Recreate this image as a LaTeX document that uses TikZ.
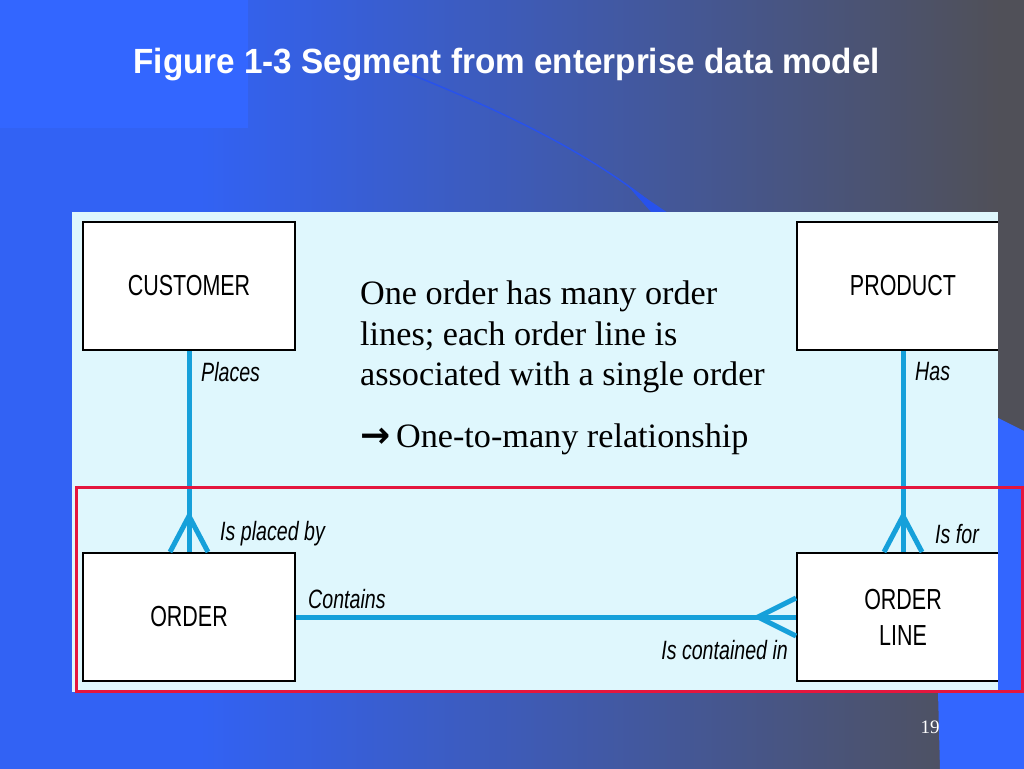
\documentclass[tikz,border=0pt]{standalone}
\usepackage{fontspec}
\setmainfont{Liberation Serif}
\newfontfamily\erfont[FakeStretch=0.74]{Liberation Sans}
\newfontfamily\headfont[FakeStretch=0.95]{Liberation Sans}
\newfontfamily\symfont{DejaVu Sans}
\usetikzlibrary{positioning,calc}
\definecolor{bgblue}{RGB}{50,98,244}
\definecolor{cornerblue}{RGB}{51,102,255}
\definecolor{bggrey}{RGB}{80,80,88}
\definecolor{swoosh}{RGB}{40,82,235}
\definecolor{panelcyan}{RGB}{223,247,253}
\definecolor{relcyan}{RGB}{22,160,218}
\definecolor{markred}{RGB}{228,22,62}
\tikzset{entity/.style={draw, line width=2pt, fill=white, minimum width=212pt, minimum height=128pt, align=center, font=\erfont\fontsize{29}{36}\selectfont},
  rel/.style={draw=relcyan, line width=5pt},
  role/.style={inner sep=0pt, font=\erfont\itshape\fontsize{26.5}{30}\selectfont}}

\begin{document}
\begin{tikzpicture}[x=1pt, y=1pt, node distance=201pt]
    \useasboundingbox (0,0) rectangle (1024,-768);
    % slide background
    \fill[bgblue] (-2,2) rectangle (202,-770);
    \shade[left color=bgblue, right color=bggrey] (200,2) rectangle (1000,-770);
    \fill[bggrey] (999,2) rectangle (1026,-770);
    \fill[cornerblue] (-2,2) rectangle (248,-128);
    \draw[swoosh, line width=1.5pt] (405,-72) .. controls (520,-118) and (600,-160) .. (662,-212);
    \fill[swoosh] (628,-186) -- (668,-213) -- (652,-213) -- cycle;
    \node[anchor=base west, text=white, font=\headfont\bfseries\fontsize{35}{40}\selectfont] (title) at (130,-73) {Figure 1-3 Segment from enterprise data model};

    % figure panel
    \fill[panelcyan] (72,-212) rectangle (998,-692);

    \node[entity]                     (cust) at (189,-286) {CUSTOMER};
    \node[entity, below=of cust]      (ord)  {ORDER};
    \node[entity, right=500pt of ord] (ordl) {ORDER\\LINE};
    \node[entity, above=of ordl]      (prod) {PRODUCT};

    \draw[rel] (cust) -- (ord);
    \draw[rel] ($(ord.north)+(-19,0)$) -- ($(ord.north)+(0,36)$) -- ($(ord.north)+(19,0)$);
    \draw[rel] (prod) -- (ordl);
    \draw[rel] ($(ordl.north)+(-19,0)$) -- ($(ordl.north)+(0,36)$) -- ($(ordl.north)+(19,0)$);
    \draw[rel] (ord) -- (ordl);
    \draw[rel] ($(ordl.west)+(0,19)$) -- ($(ordl.west)+(-38,0)$) -- ($(ordl.west)+(0,-19)$);

    \node[role, anchor=west]       (places)    at ($(cust.south)+(12,-21)$) {Places};
    \node[role, anchor=west]       (placedby)  at ($(ord.north)+(31,18)$)   {Is placed by};
    \node[role, anchor=west]       (has)       at ($(prod.south)+(12,-21)$) {Has};
    \node[role, anchor=west]       (isfor)     at ($(ordl.north)+(32,18)$)  {Is for};
    \node[role, anchor=west]       (contains)  at ($(ord.east)+(12,18)$)    {Contains};
    \node[role, anchor=east]       (contained) at ($(ordl.west)+(-8,-33)$)  {Is contained in};

    % note
    \node[anchor=north west, inner sep=0pt, align=left, font=\fontsize{34.2}{40.5}\selectfont] (note) at (360,-281)
        {One order has many order\\lines; each order line is\\associated with a single order};
    \node[anchor=base west, inner sep=0pt, font=\fontsize{34.2}{40}\selectfont] (onetomany) at (360,-447)
        {{\symfont\bfseries\fontsize{36}{40}\selectfont →}\,One-to-many relationship};

    % right edge of the slide
    \fill[bggrey] (998,-212) rectangle (1026,-420);
    \fill[cornerblue] (998,-418) -- (1026,-432) -- (1026,-770) -- (940,-770) -- (938,-692) -- (998,-692) -- cycle;
    \draw[markred, line width=3pt] (76,-487) rectangle (1022,-691);

    \node[anchor=base west, text=white, font=\fontsize{19}{22}\selectfont] (pageno) at (917,-733) {19};
\end{tikzpicture}
\end{document}
